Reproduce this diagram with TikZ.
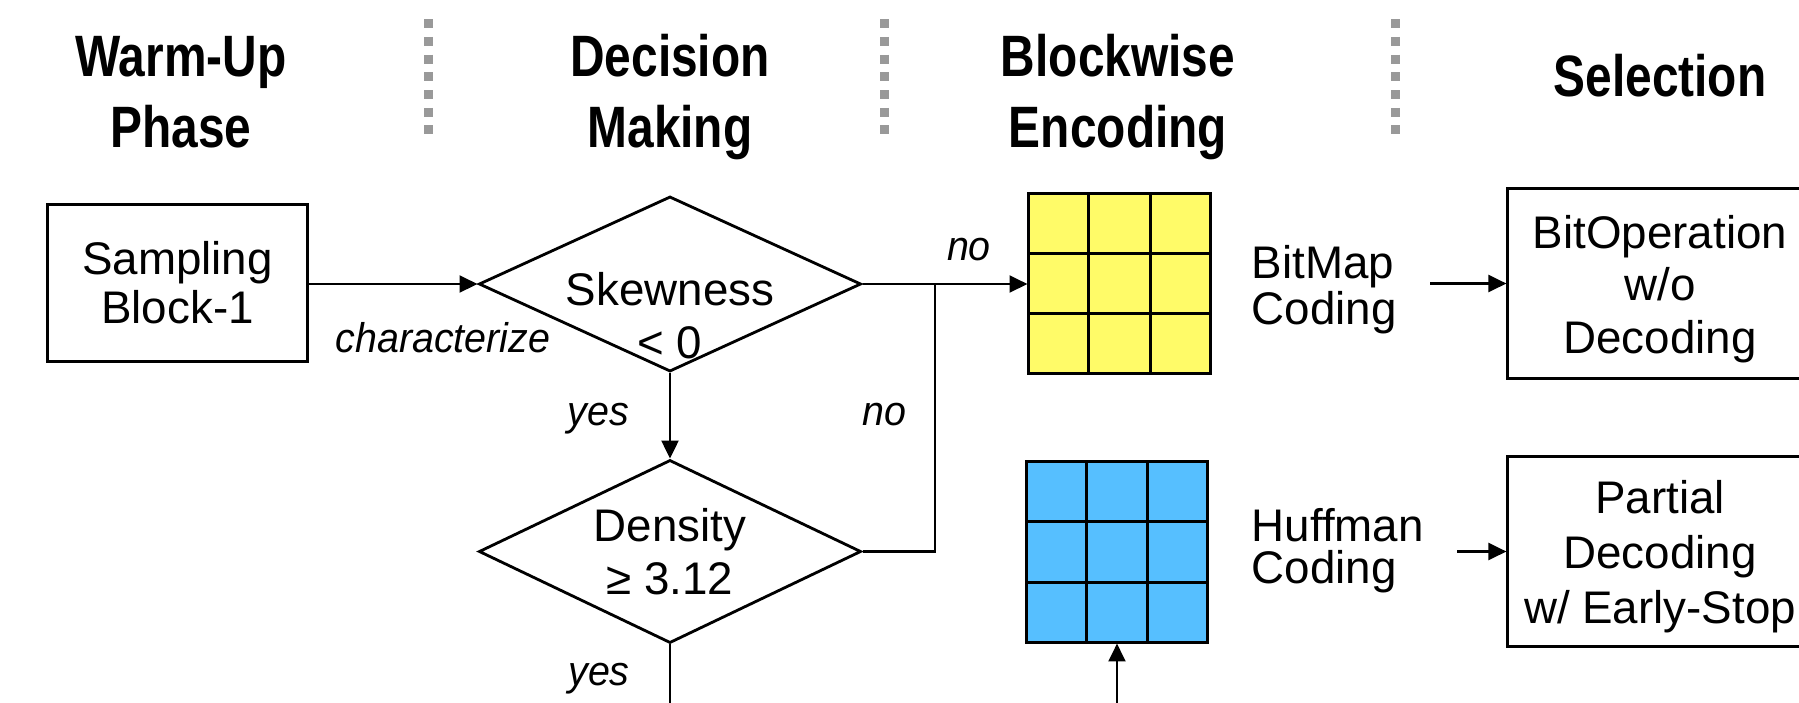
\documentclass[tikz,border=0pt]{standalone}
\usepackage{fontspec}
\setmainfont{Liberation Sans}
\newfontfamily\headfont[FakeStretch=0.82]{Liberation Sans}
\newfontfamily\labfont[FakeStretch=0.95]{Liberation Sans}
\usetikzlibrary{shapes.geometric,arrows.meta,calc}
\definecolor{gridyellow}{RGB}{255,251,104}
\definecolor{gridblue}{RGB}{86,191,255}
\definecolor{sepgray}{RGB}{153,153,153}
\begin{document}
\begin{tikzpicture}[x=0.01cm,y=-0.01cm,
  head/.style={font=\headfont\bfseries\fontsize{16.6pt}{20.1pt}\selectfont, align=center, inner sep=0pt},
  body/.style={align=center, inner sep=0pt, font=\fontsize{13pt}{15pt}\selectfont},
  lab/.style={font=\labfont\itshape\fontsize{11.8pt}{14pt}\selectfont, inner sep=0pt},
  box/.style={draw, rectangle, line width=0.85pt, inner sep=0pt, align=center, font=\fontsize{13pt}{15pt}\selectfont},
  dia/.style={draw, shape=diamond, line width=0.8pt, inner sep=0pt, aspect=2.1, minimum width=3.82cm},
  conn/.style={line width=0.7pt},
  arr/.style={conn, -{Triangle[length=5.1pt,width=4.8pt]}},
  sepline/.style={sepgray, line width=2.56pt, dash pattern=on 2.56pt off 2.47pt},
  gridbox/.style={draw, rectangle, line width=0.85pt, inner sep=0pt, minimum width=1.81cm, minimum height=1.79cm},
  gridl/.style={line width=0.85pt}
]
\useasboundingbox (0,0) rectangle (1799,702);
\clip (0,0) rectangle (1799,702);

% headers
\node[head] (h1) at (181,92) {Warm-Up\\Phase};
\node[head] (h2) at (670,97) {Decision\\Making};
\node[head] (h3) at (1118,97) {Blockwise\\Encoding};
\node[head] (h4) at (1660,76) {Selection};

% separators
\draw[sepline] (428.5,19.3) -- (428.5,136);
\draw[sepline] (884,19.3) -- (884,136);
\draw[sepline] (1395,19.3) -- (1395,136);

% sampling
\node[box, minimum width=2.59cm, minimum height=1.56cm, font=\fontsize{13pt}{14pt}\selectfont] (samp) at (177.5,283) {Sampling\\Block-1};

% diamonds
\node[dia, minimum height=1.75cm] (skew) at (670,284) {};
\node[body] (skewtxt) at (670,316) {Skewness\\< 0};
\node[dia, minimum height=1.83cm] (dens) at (670,551.5) {};
\node[body] (denstxt) at (670,552) {Density\\≥ 3.12};

% grids
\node[gridbox, fill=gridyellow] (yg) at (1119.5,283.5) {};
\node[gridbox, fill=gridblue, minimum width=1.80cm, minimum height=1.80cm] (bg) at (1117,552) {};
\foreach \g in {yg,bg}{
  \foreach \f in {0.3333,0.6667}{
    \draw[gridl] ($(\g.north west)!\f!(\g.north east)$) -- ($(\g.south west)!\f!(\g.south east)$);
    \draw[gridl] ($(\g.north west)!\f!(\g.south west)$) -- ($(\g.north east)!\f!(\g.south east)$);
  }
}

% coding labels
\node[body, align=left, anchor=west, font=\fontsize{13pt}{11.9pt}\selectfont] (bm) at (1251,290) {BitMap\\Coding};
\node[body, align=left, anchor=west, font=\fontsize{13pt}{11.9pt}\selectfont] (hf) at (1251,551) {Huffman\\Coding};

% selection boxes
\node[box, minimum width=3.04cm, minimum height=1.89cm] (bitop) at (1660,283.5) {};
\node[body] (bitoptxt) at (1660,289) {BitOperation\\w/o\\Decoding};
\node[box, minimum width=3.04cm, minimum height=1.89cm] (part) at (1660,551.5) {};
\node[body, font=\fontsize{13pt}{15.6pt}\selectfont] (parttxt) at (1660,557) {Partial\\Decoding\\w/ Early-Stop};

% connector coordinates
\coordinate (join) at (935,284);
\coordinate (densout) at (670,712);
\coordinate (bin) at (1117,712);

% connectors
\draw[arr] (samp.east |- skew.west) -- (skew.west);
\node[lab, anchor=base] (lchar) at (443,352) {characterize};
\draw[arr] (skew.east) -- (skew.east -| yg.west);
\node[lab, anchor=base] (lno1) at (969,260) {no};
\draw[arr] (skew.south) -- (dens.north);
\node[lab, anchor=base] (lyes1) at (598.5,425) {yes};
\draw[conn] (dens.east) -| (join);
\node[lab, anchor=base] (lno2) at (884.5,425) {no};
\draw[conn] (dens.south) -- (densout);
\node[lab, anchor=base] (lyes2) at (599,685) {yes};
\draw[arr] (bin) -- (bg.south);
\draw[arr, shorten <=0.33cm] (bm.east |- bitop.west) -- (bitop.west);
\draw[arr, shorten <=0.33cm] (hf.east |- part.west) -- (part.west);
\end{tikzpicture}
\end{document}
